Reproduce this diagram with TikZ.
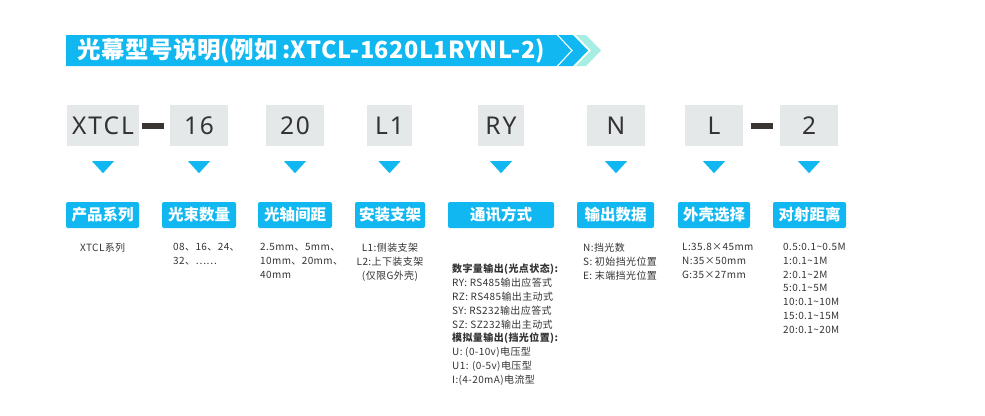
\documentclass[tikz,border=0pt]{standalone}
\usepackage{fontspec}
\setmainfont{Noto Sans CJK SC}
\newfontfamily\codefont[LetterSpace=8]{Noto Sans}
\usetikzlibrary{calc}
\definecolor{mblue}{HTML}{11B7F0}
\definecolor{maqua}{HTML}{A6EEE4}
\definecolor{mgrey}{HTML}{E5E8E9}
\definecolor{mdark}{HTML}{3A3433}
\definecolor{mtext}{HTML}{333333}
\tikzset{
  codebox/.style={fill=mgrey, minimum height=41pt, inner sep=0pt, text=mtext,
    font=\codefont\fontsize{24.5}{25}\selectfont},
  labbox/.style={fill=mblue, rounded corners=2pt, minimum height=26pt, inner sep=0pt,
    text=white, font=\fontsize{15.5}{16}\selectfont\bfseries},
  desc/.style={anchor=north west, inner sep=0pt, text=mtext, align=left,
    font=\addfontfeature{LetterSpace=4}\fontsize{10}{13.8}\selectfont},
  tri/.style={fill=mblue},
  dashline/.style={draw=mdark, line width=6pt},
}
\begin{document}
\begin{tikzpicture}[x=1pt,y=-1pt]
\useasboundingbox (0,0) rectangle (985,415);
% title banner
\fill[maqua] (576,35) -- (586,35) -- (601,50.5) -- (586,66) -- (576,66) -- (591,50.5) -- cycle;
\fill[mblue] (66,35) -- (573,35) -- (588,50.5) -- (573,66) -- (66,66) -- cycle;
\draw[white, line width=1.1pt] (557,34.5) -- (572,50.5) -- (557,66.5);
\node[anchor=west, inner sep=0pt, text=white, font=\addfontfeature{LetterSpace=2}\fontsize{23.5}{24}\selectfont\bfseries] (title) at (77,50.5) {光幕型号说明(例如\,:XTCL-1620L1RYNL-2)};
% code boxes
\node[codebox, minimum width=72pt] (c1) at (103,125.5) {XTCL};
\node[codebox, minimum width=58pt] (c2) at (199,125.5) {16};
\node[codebox, minimum width=58pt] (c3) at (295,125.5) {20};
\node[codebox, minimum width=45pt] (c4) at (389.5,125.5) {L1};
\node[codebox, minimum width=46pt] (c5) at (501,125.5) {RY};
\node[codebox, minimum width=58pt] (c6) at (616,125.5) {N};
\node[codebox, minimum width=58pt] (c7) at (714,125.5) {L};
\node[codebox, minimum width=58pt] (c8) at (809,125.5) {2};
\draw[dashline] ([xshift=3pt]c1.east) -- ([xshift=-6pt]c2.west);
\draw[dashline] ([xshift=8pt]c7.east) -- ([xshift=-7pt]c8.west);
\foreach \n in {c1,c2,c3,c4,c5,c6,c7,c8}
  \fill[tri] ([xshift=-11pt,yshift=-15pt]\n.south) -- ([xshift=11pt,yshift=-15pt]\n.south) -- ([yshift=-27pt]\n.south) -- cycle;
% label boxes
\node[labbox, minimum width=73pt] (l1) at (102.5,215) {产品系列};
\node[labbox, minimum width=74pt] (l2) at (199,215) {光束数量};
\node[labbox, minimum width=74pt] (l3) at (295,215) {光轴间距};
\node[labbox, minimum width=70pt] (l4) at (390,215) {安装支架};
\node[labbox, minimum width=106pt] (l5) at (501,215) {通讯方式};
\node[labbox, minimum width=77pt] (l6) at (615.5,215) {输出数据};
\node[labbox, minimum width=72pt] (l7) at (714,215) {外壳选择};
\node[labbox, minimum width=73pt] (l8) at (809.5,215) {对射距离};
% descriptions
\node[desc] (d1) at (80,243) {XTCL系列};
\node[desc] (d2) at (173,243) {08、16、24、\\32、……};
\node[desc] (d3) at (260,243) {2.5mm、5mm、\\10mm、20mm、\\40mm};
\node[desc, anchor=north, align=center] (d4) at (390,243) {L1:侧装支架\\L2:上下装支架\\(仅限G外壳)};
\node[desc] (d5) at (452,264) {\textbf{数字量输出(光点状态):}\\RY: RS485输出应答式\\RZ: RS485输出主动式\\SY: RS232输出应答式\\SZ: SZ232输出主动式\\\textbf{模拟量输出(挡光位置):}\\U: (0-10v)电压型\\U1: (0-5v)电压型\\I:(4-20mA)电流型};
\node[desc] (d6) at (583,243) {N:挡光数\\S: 初始挡光位置\\E: 末端挡光位置};
\node[desc] (d7) at (682,243) {L:35.8×45mm\\N:35×50mm\\G:35×27mm};
\node[desc] (d8) at (783,243) {0.5:0.1\textasciitilde0.5M\\1:0.1\textasciitilde1M\\2:0.1\textasciitilde2M\\5:0.1\textasciitilde5M\\10:0.1\textasciitilde10M\\15:0.1\textasciitilde15M\\20:0.1\textasciitilde20M};
\end{tikzpicture}
\end{document}
